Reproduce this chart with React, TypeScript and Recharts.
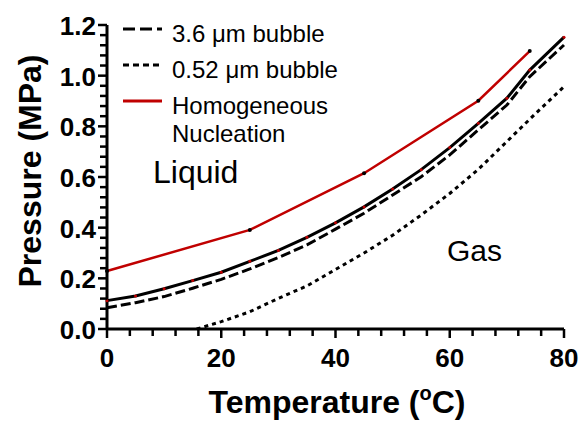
import { LineChart, Line, XAxis, YAxis, Legend } from "recharts";

// temperatures (°C) and pressures (MPa)
const temps = [0, 5, 10, 15, 20, 25, 30, 35, 40, 45, 50, 55, 60, 65, 70, 74, 80];
const flatP = [0.112, 0.13, 0.159, 0.191, 0.224, 0.267, 0.31, 0.362, 0.419, 0.482, 0.553, 0.629, 0.716, 0.812, 0.911, 1.022, 1.152];
const bubble36P = [0.084, 0.104, 0.128, 0.161, 0.196, 0.237, 0.282, 0.332, 0.394, 0.457, 0.529, 0.601, 0.687, 0.786, 0.884, 0.996, 1.121];

const bubble052T = [15.7, 20, 25, 30, 35, 40, 45, 50, 55, 60, 65, 70, 75, 80];
const bubble052P = [0, 0.029, 0.068, 0.121, 0.17, 0.235, 0.3, 0.37, 0.45, 0.535, 0.63, 0.74, 0.85, 0.957];

const homogT = [0, 25, 45, 65, 74];
const homogP = [0.229, 0.391, 0.615, 0.901, 1.097];

const xTicks = [0, 4, 8, 12, 16, 20, 24, 28, 32, 36, 40, 44, 48, 52, 56, 60, 64, 68, 72, 76, 80];
const yTicks = [0, 0.04, 0.08, 0.12, 0.16, 0.2, 0.24, 0.28, 0.32, 0.36, 0.4, 0.44, 0.48, 0.52, 0.56, 0.6, 0.64, 0.68, 0.72, 0.76, 0.8, 0.84, 0.88, 0.92, 0.96, 1.0, 1.04, 1.08, 1.12, 1.16, 1.2];

const legendNames = ["3.6 μm bubble", "0.52 μm bubble", "Homogeneous\nNucleation"];
const legendDash = ["12 5", "6 4", undefined];

const RED = "#c00000";
const FONT = "'Liberation Sans', Arial, sans-serif";

const zip = (t: number[], p: number[]) => t.map((v, i) => ({ t: v, p: p[i] }));

const flatData = zip(temps, flatP);
const bubble36Data = zip(temps, bubble36P);
const bubble052Data = zip(bubble052T, bubble052P);
const homogData = zip(homogT, homogP);

const XTick = ({ x, y, payload }: any) => {
  const major = payload.value % 20 === 0;
  return (
    <g>
      <line x1={x} x2={x} y1={y} y2={y + (major ? 9 : 7)} stroke="#000" strokeWidth={2.5} />
      {major && (
        <text x={x} y={y + 38} textAnchor="middle" fontFamily={FONT} fontWeight="bold" fontSize={26} fill="#000">
          {payload.value}
        </text>
      )}
    </g>
  );
};

const YTick = ({ x, y, payload }: any) => {
  const major = Math.round(payload.value * 100) % 20 === 0;
  return (
    <g>
      <line x1={x - (major ? 9 : 7)} x2={x} y1={y} y2={y} stroke="#000" strokeWidth={2.5} />
      {major && (
        <text x={x - 11} y={y + 10} textAnchor="end" fontFamily={FONT} fontWeight="bold" fontSize={26} fill="#000">
          {payload.value.toFixed(1)}
        </text>
      )}
    </g>
  );
};

const renderLegend = (props: any) => {
  const items = (props.payload || [])
    .filter((e: any) => legendNames.includes(e.value))
    .sort((a: any, b: any) => legendNames.indexOf(a.value) - legendNames.indexOf(b.value));
  return (
    <div style={{ fontFamily: FONT, fontSize: 24, color: "#000" }}>
      {items.map((e: any) => (
        <div key={e.value} style={{ display: "flex", alignItems: "flex-start", marginBottom: 8 }}>
          <svg width={40} height={28} style={{ flex: "none" }}>
            <line
              x1={1}
              x2={40}
              y1={9}
              y2={9}
              stroke={e.color}
              strokeWidth={3}
              strokeDasharray={legendDash[legendNames.indexOf(e.value)]}
            />
          </svg>
          <div style={{ marginLeft: 10, lineHeight: "28px", whiteSpace: "pre-line" }}>{e.value}</div>
        </div>
      ))}
    </div>
  );
};

export default function App() {
  return (
    <div style={{ position: "absolute", left: 0, top: 0, width: 580, height: 421, background: "#fff" }}>
      <LineChart width={580} height={421} margin={{ top: 25, right: 16, bottom: 0, left: 0 }}>
        <XAxis
          type="number"
          dataKey="t"
          domain={[0, 80]}
          ticks={xTicks}
          interval={0}
          height={92}
          tickSize={0}
          tickMargin={0}
          tickLine={false}
          tick={<XTick />}
          axisLine={{ stroke: "#000", strokeWidth: 3 }}
        />
        <YAxis
          type="number"
          domain={[0, 1.2]}
          ticks={yTicks}
          interval={0}
          width={107}
          tickSize={0}
          tickMargin={0}
          tickLine={false}
          tick={<YTick />}
          axisLine={{ stroke: "#000", strokeWidth: 3 }}
        />
        <Legend
          layout="vertical"
          align="center"
          verticalAlign="middle"
          content={renderLegend}
          wrapperStyle={{ position: "absolute", left: 122, top: 20, width: 260, height: 140 }}
        />
        <Line
          data={flatData}
          dataKey="p"
          name="flat"
          legendType="none"
          type="linear"
          stroke="#000"
          strokeWidth={3}
          dot={{ r: 1.5, fill: RED, stroke: "none" }}
          isAnimationActive={false}
        />
        <Line
          data={bubble36Data}
          dataKey="p"
          name={legendNames[0]}
          type="linear"
          stroke="#000"
          strokeWidth={3}
          strokeDasharray="10 4"
          dot={false}
          isAnimationActive={false}
        />
        <Line
          data={bubble052Data}
          dataKey="p"
          name={legendNames[1]}
          type="linear"
          stroke="#000"
          strokeWidth={3}
          strokeDasharray="4 4"
          dot={false}
          isAnimationActive={false}
        />
        <Line
          data={homogData}
          dataKey="p"
          name={legendNames[2]}
          type="linear"
          stroke={RED}
          strokeWidth={2.5}
          dot={{ r: 2, fill: "#000", stroke: "none" }}
          isAnimationActive={false}
        />
      </LineChart>
      <svg width={580} height={421} style={{ position: "absolute", left: 0, top: 0, pointerEvents: "none" }}>
        <text x={153} y={183} fontFamily={FONT} fontSize={32} fill="#000">Liquid</text>
        <text x={447} y={261} fontFamily={FONT} fontSize={30} fill="#000">Gas</text>
        <text x={337} y={413} textAnchor="middle" fontFamily={FONT} fontWeight="bold" fontSize={32} fill="#000">
          Temperature (<tspan fontSize={20} dy={-13}>o</tspan>
          <tspan dy={13}>C)</tspan>
        </text>
        <text
          transform="translate(41,171) rotate(-90)"
          textAnchor="middle"
          fontFamily={FONT}
          fontWeight="bold"
          fontSize={32}
          fill="#000"
        >
          Pressure (MPa)
        </text>
      </svg>
    </div>
  );
}
